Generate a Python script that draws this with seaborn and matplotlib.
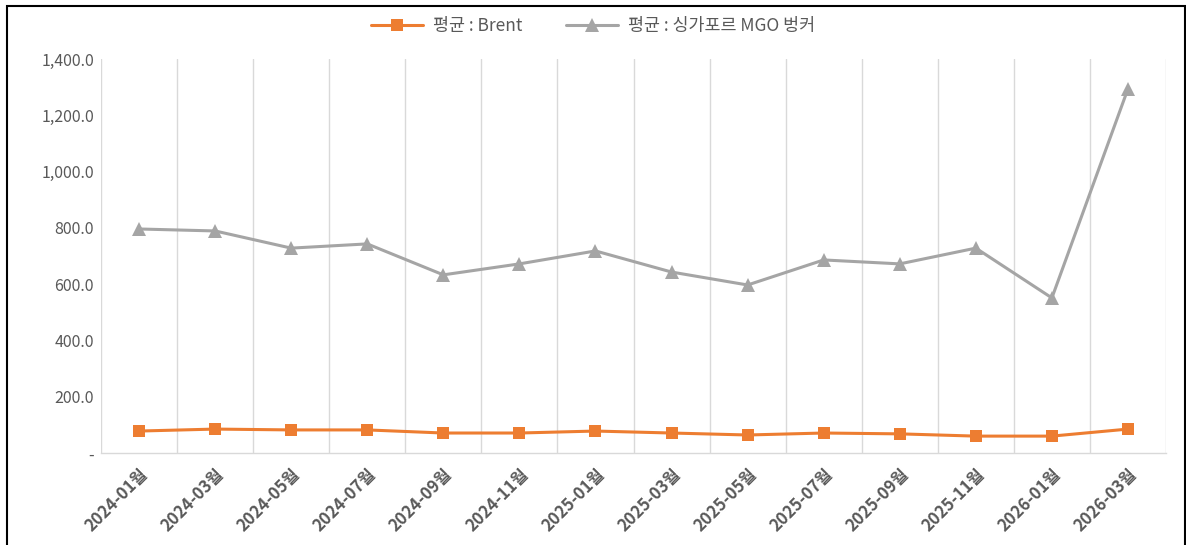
import pandas as pd
import numpy as np
import matplotlib
matplotlib.use('Agg')
import matplotlib.pyplot as plt
import matplotlib.patches as patches
import seaborn as sns

months = ['2024-01월', '2024-03월', '2024-05월', '2024-07월', '2024-09월', '2024-11월',
          '2025-01월', '2025-03월', '2025-05월', '2025-07월', '2025-09월', '2025-11월',
          '2026-01월', '2026-03월']
brent = [78, 85, 82, 82, 71, 71, 78, 71, 64, 71, 68, 60, 60, 85]
mgo = [796, 789, 728, 743, 633, 672, 718, 643, 597, 686, 672, 728, 551, 1294]
yticks = [0, 200, 400, 600, 800, 1000, 1200, 1400]

sns.set_theme(style='white')
plt.rcParams['font.family'] = ['Noto Sans CJK KR', 'DejaVu Sans']

df = pd.DataFrame({'idx': range(len(months)), 'month': months,
                   'brent': brent, 'mgo': mgo})

fig = plt.figure(figsize=(11.86, 5.45), dpi=100)
ax = fig.add_axes([101/1186, 1-453/545, (1166-101)/1186, (453-59)/545])

sns.lineplot(data=df, x='idx', y='brent', ax=ax, color='#ED7D31', marker='s',
             markersize=9, markeredgewidth=0, linewidth=2.2, label='평균 : Brent')
sns.lineplot(data=df, x='idx', y='mgo', ax=ax, color='#A5A5A5', marker='^',
             markersize=10, markeredgewidth=0, linewidth=2.2, label='평균 : 싱가포르 MGO 벙커')

ax.set_xlim(-0.5, len(months) - 0.5)
ax.set_ylim(0, 1400)
ax.set_xticks(df['idx'])
ax.set_xticklabels(months, rotation=45, ha='right', rotation_mode='anchor',
                   fontsize=12, color='#595959', fontweight='bold')
ax.set_yticks(yticks)
ax.set_yticklabels(['-' if v == 0 else f'{v:,.1f}' for v in yticks],
                   fontsize=11.5, color='#595959')
ax.tick_params(axis='both', length=0, pad=5)
ax.tick_params(axis='x', pad=9)
ax.set_xlabel('')
ax.set_ylabel('')

# vertical gridlines at category boundaries
ax.set_xticks(np.arange(-0.5, len(months), 1.0), minor=True)
ax.grid(False)
ax.grid(True, which='minor', axis='x', color='#D9D9D9', linewidth=1)
for s in ['top', 'left', 'right']:
    ax.spines[s].set_visible(False)
ax.spines['bottom'].set_color('#D9D9D9')
ax.spines['bottom'].set_linewidth(1)

ax.legend(loc='upper center', bbox_to_anchor=(0.5, 1 - 1/545), bbox_transform=fig.transFigure,
          ncol=2, frameon=False, fontsize=12.5, labelcolor='#595959',
          handlelength=3, columnspacing=2.5, handletextpad=0.6)

# outer frame
fig.patches.append(patches.Rectangle((7/1186, -0.05), (1185-7)/1186, 1.05 - 6/545,
                                     transform=fig.transFigure, fill=False,
                                     edgecolor='black', linewidth=1.5))

fig.savefig('out.png', dpi=100)
